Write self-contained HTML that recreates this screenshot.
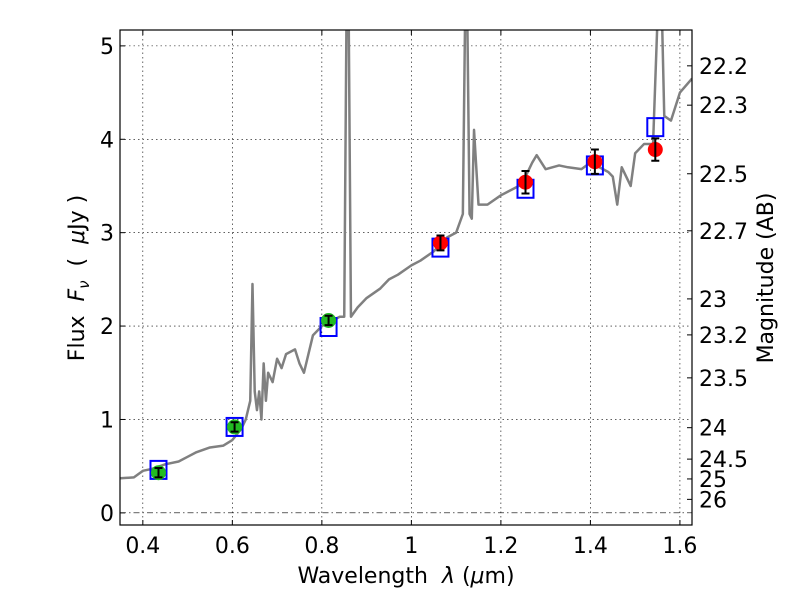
<!DOCTYPE html>
<html><head><meta charset="utf-8"><style>
body{margin:0;background:#fff;}
svg text{font-family:"DejaVu Sans","Liberation Sans",sans-serif;fill:#000;white-space:pre;}
</style></head><body>
<svg id="chart" width="800" height="600" viewBox="0 0 800 600" xmlns="http://www.w3.org/2000/svg">
<defs><clipPath id="clip"><rect x="120" y="30" width="572" height="495"/></clipPath></defs>
<rect width="800" height="600" fill="#fff"/>
<g id="grid"></g>
<g id="spec" clip-path="url(#clip)"></g>
<g id="marks" clip-path="url(#clip)"></g>
<rect x="120" y="30" width="572" height="495" fill="none" stroke="#000" stroke-width="1.2"/>
<g id="axes"></g>
<text x="406" y="583" font-size="22" text-anchor="middle">Wavelength  <tspan font-style="italic">λ</tspan> (<tspan font-style="italic">μ</tspan>m)</text>
<text transform="translate(84,278) rotate(-90)" font-size="22" text-anchor="middle">Flux  <tspan font-style="italic">F</tspan><tspan font-style="italic" font-size="15" dy="5">ν</tspan><tspan dy="-5">  (  </tspan><tspan font-style="italic">μ</tspan>Jy )</text>
<text transform="translate(773,278) rotate(-90)" font-size="22" text-anchor="middle">Magnitude (AB)</text>
</svg>
<script>
const specX=[0.35,0.38,0.40,0.42,0.45,0.48,0.5,0.52,0.55,0.58,0.6,0.62,0.63,0.64,0.645,0.65,0.655,0.66,0.665,0.67,0.675,0.68,0.69,0.7,0.71,0.72,0.74,0.75,0.76,0.78,0.8,0.82,0.84,0.85,0.855,0.86,0.865,0.88,0.9,0.93,0.95,0.97,1.0,1.02,1.05,1.08,1.1,1.115,1.12,1.125,1.13,1.135,1.14,1.15,1.17,1.2,1.22,1.24,1.25,1.27,1.28,1.3,1.33,1.35,1.38,1.4,1.42,1.44,1.45,1.46,1.47,1.49,1.5,1.52,1.54,1.55,1.56,1.565,1.58,1.6,1.627];
const specY=[0.37,0.38,0.45,0.47,0.52,0.55,0.6,0.65,0.7,0.72,0.78,0.9,1.0,1.2,2.45,1.3,1.1,1.3,1.0,1.6,1.2,1.5,1.4,1.65,1.55,1.7,1.75,1.6,1.5,1.9,2.0,2.05,2.1,2.1,5.3,5.3,2.1,2.2,2.3,2.4,2.5,2.55,2.65,2.7,2.8,2.95,3.0,3.2,5.3,5.3,3.2,3.15,4.1,3.3,3.3,3.4,3.45,3.5,3.55,3.75,3.83,3.68,3.72,3.7,3.68,3.75,3.7,3.65,3.6,3.3,3.7,3.5,3.85,3.95,3.95,5.3,5.3,4.25,4.2,4.5,4.65];
const bandX=[0.435,0.605,0.815,1.065,1.255,1.41,1.545];
const obsY=[0.43,0.92,2.06,2.89,3.54,3.76,3.89];
const obsErr=[0.05,0.05,0.05,0.08,0.12,0.13,0.12];
const obsColor=['#22bb22','#22bb22','#22bb22','red','red','red','red'];
const modelY=[0.46,0.92,1.99,2.84,3.47,3.72,4.13];
const xTicks=[0.4,0.6,0.8,1.0,1.2,1.4,1.6];
const xTickLabels=['0.4','0.6','0.8','1','1.2','1.4','1.6'];
const yTicks=[0,1,2,3,4,5];
const magTicks=[22.2,22.3,22.5,22.7,23,23.2,23.5,24,24.5,25,26];
const magLabels=['22.2','22.3','22.5','22.7','23','23.2','23.5','24','24.5','25','26'];
const X0=120,X1=692,Y0=525,Y1=30,xmin=0.349,xmax=1.627,ymin=-0.13,ymax=5.17;
const sx=v=>X0+(v-xmin)/(xmax-xmin)*(X1-X0);
const sy=v=>Y0-(v-ymin)/(ymax-ymin)*(Y0-Y1);
const NS='http://www.w3.org/2000/svg';
function mk(tag,attrs,parent){const e=document.createElementNS(NS,tag);for(const k in attrs)e.setAttribute(k,attrs[k]);parent.appendChild(e);return e;}
const grid=document.getElementById('grid'),axes=document.getElementById('axes');
xTicks.forEach((t,i)=>{
 const g=mk('line',{x1:sx(t),x2:sx(t),y1:Y1,y2:Y0,stroke:'#000','stroke-width':0.6,'stroke-dasharray':'1.5,3'},grid);
 
 
 mk('line',{x1:sx(t),x2:sx(t),y1:Y0,y2:Y0-5,stroke:'#000'},axes);
 mk('line',{x1:sx(t),x2:sx(t),y1:Y1,y2:Y1+5,stroke:'#000'},axes);
 const tx=mk('text',{x:sx(t),y:Y0+28,'font-size':22,'text-anchor':'middle'},axes);
 tx.textContent=xTickLabels[i];
 
 
});
yTicks.forEach(t=>{
 const g=mk('line',{x1:X0,x2:X1,y1:sy(t),y2:sy(t),stroke:'#000','stroke-width':0.6,'stroke-dasharray':t===0?'6,3,1.5,3':'1.5,3'},grid);
 
 
 mk('line',{x1:X0,x2:X0+5,y1:sy(t),y2:sy(t),stroke:'#000'},axes);
 const tx=mk('text',{x:X0-6,y:sy(t)+8,'font-size':22,'text-anchor':'end'},axes);
 tx.textContent=String(t);
 
 
});
magTicks.forEach((m,i)=>{
 const f=Math.pow(10,(23.9-m)/2.5);const y=sy(f);
 mk('line',{x1:X1-5,x2:X1,y1:y,y2:y,stroke:'#000'},axes);
 const tx=mk('text',{x:X1+7,y:y+8,'font-size':22},axes);
 tx.textContent=magLabels[i];
 
 
});
const spec=document.getElementById('spec');
const pl=mk('polyline',{points:specX.map((x,i)=>sx(x)+','+sy(specY[i])).join(' '),fill:'none',stroke:'#808080','stroke-width':2.5,'stroke-linejoin':'round'},spec);


const marks=document.getElementById('marks');
bandX.forEach((b,i)=>{
 const r=mk('rect',{x:sx(b)-8,y:sy(modelY[i])-9,width:16,height:18,fill:'none',stroke:'blue','stroke-width':2},marks);
 
 
});
bandX.forEach((b,i)=>{
 const x=sx(b),y=sy(obsY[i]);
 const c=mk('circle',{cx:x,cy:y,r:7.5,fill:obsColor[i]},marks);
 
 
 const yt=sy(obsY[i]+obsErr[i]),yb=sy(obsY[i]-obsErr[i]);
 const e=mk('path',{d:`M${x},${yt}V${yb}M${x-4},${yt}H${x+4}M${x-4},${yb}H${x+4}`,stroke:'#000','stroke-width':2,fill:'none'},marks);
 
 
});
</script>
</body></html>
